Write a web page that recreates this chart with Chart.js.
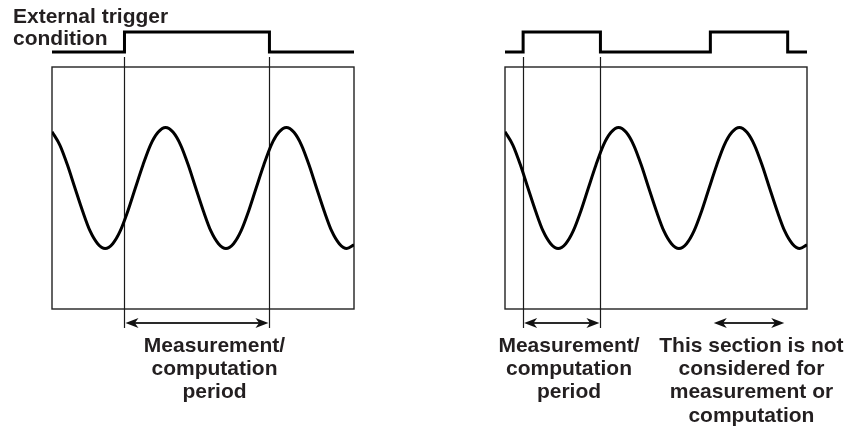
<!DOCTYPE html>
<html>
<head>
<meta charset="utf-8">
<script src="https://cdn.jsdelivr.net/npm/chart.js@4.4.1/dist/chart.umd.min.js"></script>
<style>
  html, body { margin: 0; padding: 0; background: #fff; }
  #wrap { position: relative; width: 854px; height: 430px; }
  canvas { position: absolute; top: 0; }
</style>
</head>
<body>
<div id="wrap">
  <canvas id="leftPanel" width="427" height="430" style="left:0"></canvas>
  <canvas id="rightPanel" width="427" height="430" style="left:427px"></canvas>
</div>
<script>
// time axis in ms (box = 25 ms, one period = 10 ms), amplitude in divisions
var waveT = [0, 0.65, 1.28, 1.9, 2.53, 3.15, 3.78, 4.4, 5.03, 5.65, 6.28, 6.9, 7.53, 8.15, 8.78,
             9.4, 10.03, 10.65, 11.28, 11.9, 12.53, 13.15, 13.78, 14.4, 15.03, 15.65, 16.28,
             16.9, 17.53, 18.15, 18.78, 19.4, 20.03, 20.65, 21.28, 21.9, 22.53, 23.15, 23.78,
             24.4, 25];
var waveV = [0.93, 0.71, 0.38, 0, -0.38, -0.71, -0.92, -1, -0.92, -0.71, -0.38, 0, 0.38, 0.71, 0.92,
             1, 0.92, 0.71, 0.38, 0, -0.38, -0.71, -0.92, -1, -0.92, -0.71, -0.38,
             0, 0.38, 0.71, 0.92, 1, 0.92, 0.71, 0.38, 0, -0.38, -0.71, -0.92,
             -1, -0.94];

// trigger level (0 = low, 1 = high) drawn above the screen
var trigLevels = [2.25, 2.58];
var leftTrigT = [0, 6, 18, 25];
var leftTrigState = [0, 1, 0, 0];
var rightTrigT = [0, 1.5, 7.9, 17, 23.4, 25];
var rightTrigState = [0, 1, 0, 1, 0, 0];

var leftMarkers = [6, 18];
var leftArrows = [[6, 18]];
var rightMarkers = [1.5, 7.9];
var rightArrows = [[1.5, 7.9], [17.2, 23.2]];

var titleLines = ['External trigger', 'condition'];
var leftLabels = [{ at: 13.45, lines: ['Measurement/', 'computation', 'period'] }];
var rightLabels = [
  { at: 5.3, lines: ['Measurement/', 'computation', 'period'] },
  { at: 20.4, lines: ['This section is not', 'considered for', 'measurement or', 'computation'] }
];

function pairs(xs, ys) {
  return xs.map(function (x, i) { return { x: x, y: ys[i] }; });
}

function arrowHead(ctx, x, y, dir) {
  var L = 13, w = 5;
  ctx.beginPath();
  ctx.moveTo(x, y);
  ctx.lineTo(x - dir * L, y - w);
  ctx.lineTo(x - dir * L * 0.72, y);
  ctx.lineTo(x - dir * L, y + w);
  ctx.closePath();
  ctx.fill();
}

var panelPlugin = {
  id: 'panel',
  beforeDatasetsDraw: function (chart, args, opts) {
    var ctx = chart.ctx, xs = chart.scales.x, ys = chart.scales.y;
    var top = ys.getPixelForValue(2), bottom = ys.getPixelForValue(-2);
    var left = xs.getPixelForValue(0), right = xs.getPixelForValue(25);
    ctx.save();
    ctx.strokeStyle = '#222';
    ctx.lineWidth = 1.4;
    ctx.strokeRect(left, top, right - left, bottom - top);
    ctx.lineWidth = 1.2;
    ctx.strokeStyle = '#1a1a1a';
    opts.markers.forEach(function (t) {
      var x = Math.round(xs.getPixelForValue(t)) + 0.5;
      ctx.beginPath();
      ctx.moveTo(x, top - 10);
      ctx.lineTo(x, bottom + 19);
      ctx.stroke();
    });
    ctx.restore();
  },
  afterDatasetsDraw: function (chart, args, opts) {
    var ctx = chart.ctx, xs = chart.scales.x, ys = chart.scales.y;
    var bottom = ys.getPixelForValue(-2);
    var left = xs.getPixelForValue(0);
    ctx.save();
    ctx.strokeStyle = '#2a2a2a';
    ctx.fillStyle = '#111';
    ctx.lineWidth = 1.8;
    var ay = bottom + 14;
    opts.arrows.forEach(function (a) {
      var x1 = xs.getPixelForValue(a[0]), x2 = xs.getPixelForValue(a[1]);
      ctx.beginPath();
      ctx.moveTo(x1 + 8, ay);
      ctx.lineTo(x2 - 8, ay);
      ctx.stroke();
      arrowHead(ctx, x1 + 1, ay, -1);
      arrowHead(ctx, x2 - 1, ay, 1);
    });

    ctx.fillStyle = '#231f20';
    ctx.font = 'bold 21px "Liberation Sans", Arial, sans-serif';
    ctx.textBaseline = 'alphabetic';
    ctx.textAlign = 'center';
    opts.labels.forEach(function (lab) {
      var cx = xs.getPixelForValue(lab.at);
      lab.lines.forEach(function (s, i) {
        ctx.fillText(s, cx, bottom + 42.7 + i * 23.3);
      });
    });
    if (opts.title) {
      ctx.textAlign = 'left';
      opts.title.forEach(function (s, i) {
        ctx.fillText(s, left - 39, 23.3 + i * 21.7);
      });
    }
    ctx.restore();
  }
};

function makePanel(id, trigT, trigState, markers, arrows, labels, title, pad) {
  var ctx = document.getElementById(id);
  var config = {
    type: 'line',
    data: {
      datasets: [{
        label: 'Signal',
        data: pairs(waveT, waveV),
        borderColor: '#000',
        borderWidth: 3,
        pointRadius: 0,
        cubicInterpolationMode: 'monotone',
        fill: false
      }, {
        label: 'Trigger',
        data: pairs(trigT, trigState.map(function (s) { return trigLevels[s]; })),
        borderColor: '#000',
        borderWidth: 3,
        pointRadius: 0,
        stepped: 'before',
        fill: false,
        clip: false
      }]
    },
    options: {
      responsive: false,
      animation: false,
      layout: { padding: pad },
      scales: {
        x: { type: 'linear', min: 0, max: 25, display: false },
        y: { min: -2, max: 2.8, display: false }
      },
      plugins: {
        legend: { display: false },
        tooltip: { enabled: false },
        panel: { markers: markers, arrows: arrows, labels: labels, title: title }
      }
    },
    plugins: [panelPlugin]
  };
  return new Chart(ctx, config);
}

makePanel('leftPanel', leftTrigT, leftTrigState, leftMarkers, leftArrows, leftLabels, titleLines,
  { left: 52, right: 73, top: 18.6, bottom: 121 });
makePanel('rightPanel', rightTrigT, rightTrigState, rightMarkers, rightArrows, rightLabels, null,
  { left: 78, right: 47, top: 18.6, bottom: 121 });
</script>
</body>
</html>
